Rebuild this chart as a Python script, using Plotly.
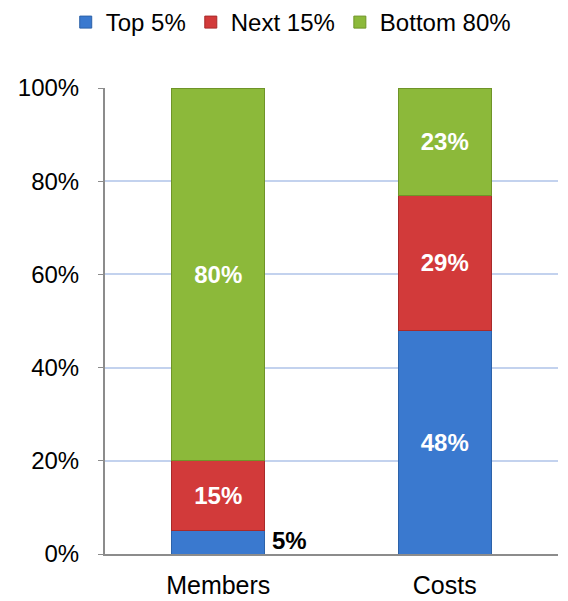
import plotly.graph_objects as go

categories = ["Members", "Costs"]
series_names = ["Top 5%", "Next 15%", "Bottom 80%"]
top5 = [5, 48]
next15 = [15, 29]
bottom80 = [80, 23]
tick_vals = [0, 20, 40, 60, 80, 100]
tick_text = ["0%", "20%", "40%", "60%", "80%", "100%"]

colors = ["#3a79cf", "#d23a3a", "#8cb93a"]
edges = ["#2d62a8", "#a82a2a", "#6f9428"]

x_pos = list(range(len(categories)))
bar_width = 0.41
FONT = "Liberation Sans, Arial"

fig = go.Figure()
for name, vals, col, edge in zip(series_names, [top5, next15, bottom80], colors, edges):
    # small segments get an outside annotation instead of an inner label
    inner = [f"{v}%" if v >= 10 else "" for v in vals]
    fig.add_trace(go.Bar(
        x=x_pos, y=vals, name=name, width=bar_width,
        marker=dict(color=col, line=dict(color=edge, width=1)),
        text=inner, textposition="inside", insidetextanchor="middle",
        textfont=dict(color="white", size=24, family=FONT, weight="bold"),
        textangle=0,
    ))

# label for the thin bottom segment, placed beside the bar
for i, v in enumerate(top5):
    if v < 10:
        fig.add_annotation(
            x=x_pos[i] + bar_width / 2, y=v / 2, xref="x", yref="y",
            text=f"<b>{v}%</b>", showarrow=False, xanchor="left", yanchor="middle",
            xshift=5, yshift=2,
            font=dict(color="black", size=24, family=FONT),
        )

fig.update_layout(
    barmode="stack",
    width=568, height=601,
    margin=dict(l=105, r=10, t=88, b=47),
    plot_bgcolor="white", paper_bgcolor="white",
    font=dict(family=FONT, size=24, color="black"),
    legend=dict(orientation="h", x=0.41, xanchor="center", y=1.0, yref="container",
                yanchor="top", font=dict(size=24), traceorder="normal",
                itemwidth=30),
    bargap=0.59,
)
fig.update_xaxes(
    tickvals=x_pos, ticktext=categories, range=[-0.5, 1.5],
    showline=True, linecolor="#8c8c8c", linewidth=2, showgrid=False,
    ticks="", tickfont=dict(size=25), ticklabelstandoff=8, fixedrange=True,
    automargin=False,
)
fig.update_yaxes(
    range=[0, 100], tickvals=tick_vals, ticktext=tick_text,
    showline=True, linecolor="#8c8c8c", linewidth=2,
    showgrid=True, gridcolor="#c3d2ee", gridwidth=1.5,
    ticks="outside", ticklen=5, tickcolor="#8c8c8c",
    tickfont=dict(size=24), ticklabelstandoff=14, zeroline=False, fixedrange=True,
    automargin=False,
)

fig.write_html("out.html")
